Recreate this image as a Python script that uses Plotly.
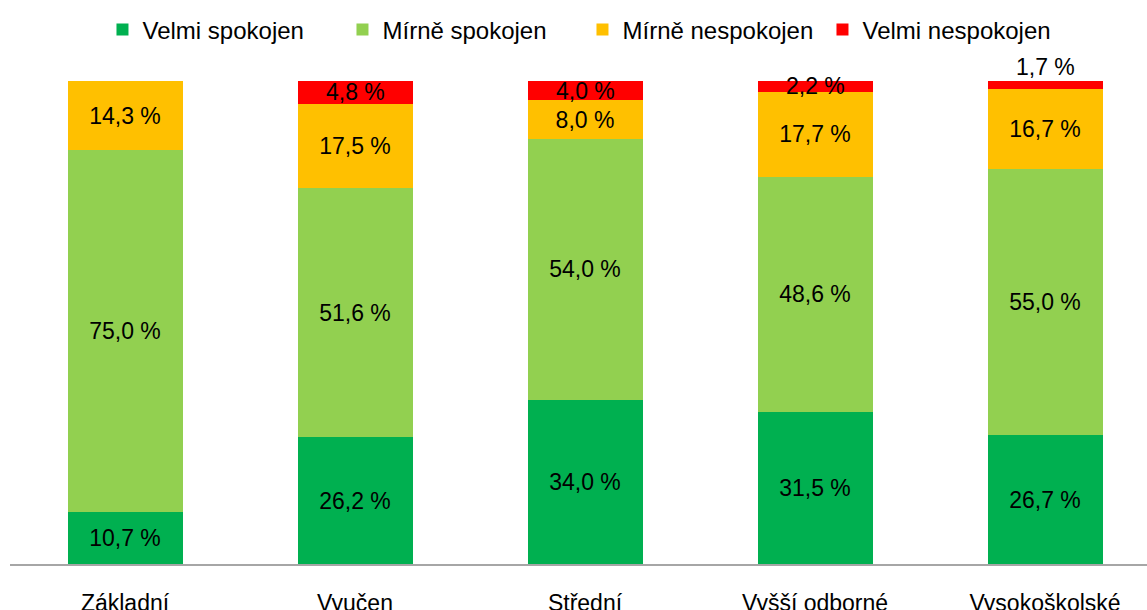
import plotly.graph_objects as go

categories = ["Základní", "Vyučen", "Střední", "Vyšší odborné", "Vysokoškolské"]
velmi_spokojen = [10.7, 26.2, 34.0, 31.5, 26.7]
mirne_spokojen = [75.0, 51.6, 54.0, 48.6, 55.0]
mirne_nespokojen = [14.3, 17.5, 8.0, 17.7, 16.7]
velmi_nespokojen = [0.0, 4.8, 4.0, 2.2, 1.7]

series = [
    ("Velmi spokojen", velmi_spokojen, "#00B050"),
    ("Mírně spokojen", mirne_spokojen, "#92D050"),
    ("Mírně nespokojen", mirne_nespokojen, "#FFC000"),
    ("Velmi nespokojen", velmi_nespokojen, "#FF0000"),
]


def fmt(v):
    return "" if v == 0 else f"{v:.1f}".replace(".", ",") + " %"


FONT = "Liberation Sans"
LABEL_SIZE = 23
Y_MAX = 100
fig = go.Figure()
annotations = []
base = [0.0] * len(categories)
for i, (name, vals, color) in enumerate(series):
    is_top = i == len(series) - 1
    fig.add_trace(go.Bar(
        x=categories,
        y=vals,
        name=name,
        marker=dict(color=color, line=dict(width=0)),
        width=0.5,
        text=None if is_top else [fmt(v) for v in vals],
        textposition="inside",
        insidetextanchor="middle",
        constraintext="none",
        textfont=dict(family=FONT, size=LABEL_SIZE, color="black"),
        cliponaxis=False,
        hoverinfo="skip",
    ))
    if is_top:
        # small top segments: label via annotations (centered, or above bar when tiny)
        for c, b, v in zip(categories, base, vals):
            if v == 0:
                continue
            if v < 2.0:
                annotations.append(dict(
                    x=c, y=min(b + v, Y_MAX), yanchor="bottom", text=fmt(v), showarrow=False,
                    font=dict(family=FONT, size=LABEL_SIZE, color="black"), yshift=-1,
                ))
            else:
                annotations.append(dict(
                    x=c, y=b + v / 2.0, yanchor="middle", text=fmt(v), showarrow=False,
                    font=dict(family=FONT, size=LABEL_SIZE, color="black"),
                ))
    base = [b + v for b, v in zip(base, vals)]

plot_w = 1147 - 10
fig.update_layout(
    barmode="stack",
    width=1147,
    height=610,
    margin=dict(l=10, r=0, t=81, b=46, pad=0),
    paper_bgcolor="white",
    plot_bgcolor="white",
    font=dict(family=FONT, size=LABEL_SIZE, color="black"),
    showlegend=True,
    legend=dict(
        orientation="h",
        x=0.5035, xanchor="center",
        y=0.988, yanchor="top",
        yref="container",
        font=dict(family=FONT, size=24, color="black"),
        traceorder="normal",
        entrywidth=195,
        entrywidthmode="pixels",
        bgcolor="rgba(0,0,0,0)",
    ),
    annotations=annotations,
    xaxis=dict(
        range=[-0.5, -0.5 + plot_w / 230.0],
        showline=True,
        linecolor="#A6A6A6",
        linewidth=2,
        ticks="",
        showgrid=False,
        zeroline=False,
        automargin=False,
        ticklabelstandoff=17,
        tickfont=dict(family=FONT, size=LABEL_SIZE, color="black"),
    ),
    yaxis=dict(
        range=[0, Y_MAX],
        visible=False,
        showgrid=False,
        zeroline=False,
    ),
)

fig.write_html(
    "out.html",
    config={"displayModeBar": False},
    post_script="document.body.style.margin='0';document.body.style.overflow='hidden';",
)
